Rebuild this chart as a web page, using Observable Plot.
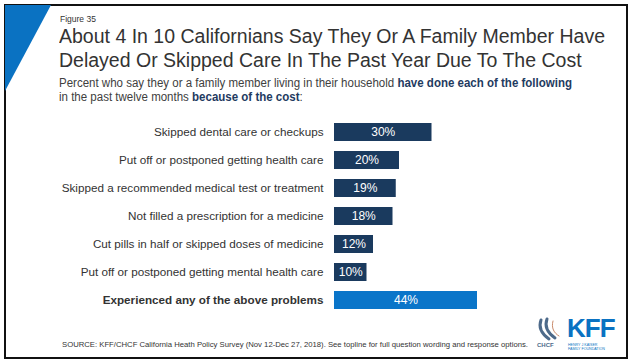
<!DOCTYPE html>
<html>
<head>
<meta charset="utf-8">
<script src="https://cdn.jsdelivr.net/npm/d3@7"></script>
<script src="https://cdn.jsdelivr.net/npm/@observablehq/plot@0.6"></script>
<style>
  body { margin: 0; background: #fff; }
  #page { position: relative; width: 635px; height: 361px; overflow: hidden; background: #fff; font-family: "Liberation Sans", Arial, sans-serif; }
  .t { position: absolute; white-space: nowrap; transform-origin: 0 0; line-height: 1; }
  #chart { position: absolute; left: 0; top: 0; }
  b.hl { color: #1f3b61; font-weight: bold; }
</style>
</head>
<body>
<div id="page">
  <svg width="635" height="361" style="position:absolute;left:0;top:0">
    <rect x="5" y="5" width="622" height="353" fill="none" stroke="#111" stroke-width="2"/>
    <polygon points="5,5 51,5 5,91" fill="#0a72c2"/>
    <g fill="none" stroke="#4d6a8a" stroke-width="3" stroke-linecap="round">
      <path d="M541,320 C538,328 542,334 549,339"/>
      <path d="M547,319 C544,327 548,333 555,338"/>
      <path d="M553,321 C551,328 554,333 559,336" stroke="#c98a6a" stroke-width="1"/>
    </g>
  </svg>
  <div class="t" id="fig" style="left:60px;top:15px;font-size:8.5px;color:#333">Figure 35</div>
  <div class="t" id="t1" style="left:59px;top:27px;font-size:19.5px;color:#333">About 4 In 10 Californians Say They Or A Family Member Have</div>
  <div class="t" id="t2" style="left:59px;top:51px;font-size:19.5px;color:#333">Delayed Or Skipped Care In The Past Year Due To The Cost</div>
  <div class="t" id="s1" style="left:59px;top:77px;font-size:12px;color:#404040">Percent who say they or a family member living in their household <b class="hl">have done each of the following</b></div>
  <div class="t" id="s2" style="left:59px;top:91px;font-size:12px;color:#404040">in the past twelve months <b class="hl">because of the cost</b>:</div>
  <div class="t" id="src" style="left:62px;top:341px;font-size:7.6px;color:#333">SOURCE: KFF/CHCF California Heath Policy Survey (Nov 12-Dec 27, 2018). See topline for full question wording and response options.</div>
  <div class="t" id="chcf" style="left:537px;top:342px;font-size:6px;font-weight:bold;color:#4d6a8a">CHCF</div>
  <div class="t" id="kff" style="left:567px;top:315px;font-size:26px;font-weight:bold;color:#0a72c2;letter-spacing:-1px">KFF</div>
  <div class="t" id="kff2" style="left:568px;top:344px;font-size:3.6px;color:#0a72c2;line-height:1.1">HENRY J KAISER<br>FAMILY FOUNDATION</div>
  <div id="chart"></div>
</div>
<script>
const categories = [
  "Skipped dental care or checkups",
  "Put off or postponed getting health care",
  "Skipped a recommended medical test or treatment",
  "Not filled a prescription for a medicine",
  "Cut pills in half or skipped doses of medicine",
  "Put off or postponed getting mental health care",
  "Experienced any of the above problems"
];
const values = [30, 20, 19, 18, 12, 10, 44];
const groups = ["item", "item", "item", "item", "item", "item", "total"];

const data = categories.map((c, i) => ({ label: c, value: values[i], group: groups[i] }));

const chart = Plot.plot({
  width: 635,
  height: 361,
  marginLeft: 334,
  marginRight: 8.5,
  marginTop: 115.7,
  marginBottom: 44.7,
  style: { background: "transparent", fontFamily: "'Liberation Sans', Arial, sans-serif", overflow: "visible" },
  x: { domain: [0, 90], axis: null },
  y: { domain: categories, axis: null, paddingInner: 0.372, paddingOuter: 0.186 },
  color: { domain: ["item", "total"], range: ["#1a3a5e", "#0a75c9"] },
  marks: [
    Plot.barX(data, { x: "value", y: "label", fill: "group" }),
    Plot.text(data, { x: d => d.value / 2, y: "label", text: d => d.value + "%", fill: "white", fontSize: 12 }),
    Plot.text(data.filter(d => d.group === "item"), { x: 0, y: "label", text: "label", textAnchor: "end", dx: -11, fontSize: 11.7, fill: "#333" }),
    Plot.text(data.filter(d => d.group === "total"), { x: 0, y: "label", text: "label", textAnchor: "end", dx: -11, fontSize: 11.7, fontWeight: "bold", fill: "#333" })
  ]
});
document.getElementById("chart").appendChild(chart);

// fit text widths to reference (paired lines share a scale)
function fit(ids, w) {
  const first = document.getElementById(ids[0]);
  const cur = first.getBoundingClientRect().width;
  if (!(cur > 0)) return;
  const s = w / cur;
  for (const id of ids) document.getElementById(id).style.transform = `scaleX(${s})`;
}
fit(["t1", "t2"], 546);
fit(["s1", "s2"], 513);
fit(["src"], 466);
</script>
</body>
</html>
